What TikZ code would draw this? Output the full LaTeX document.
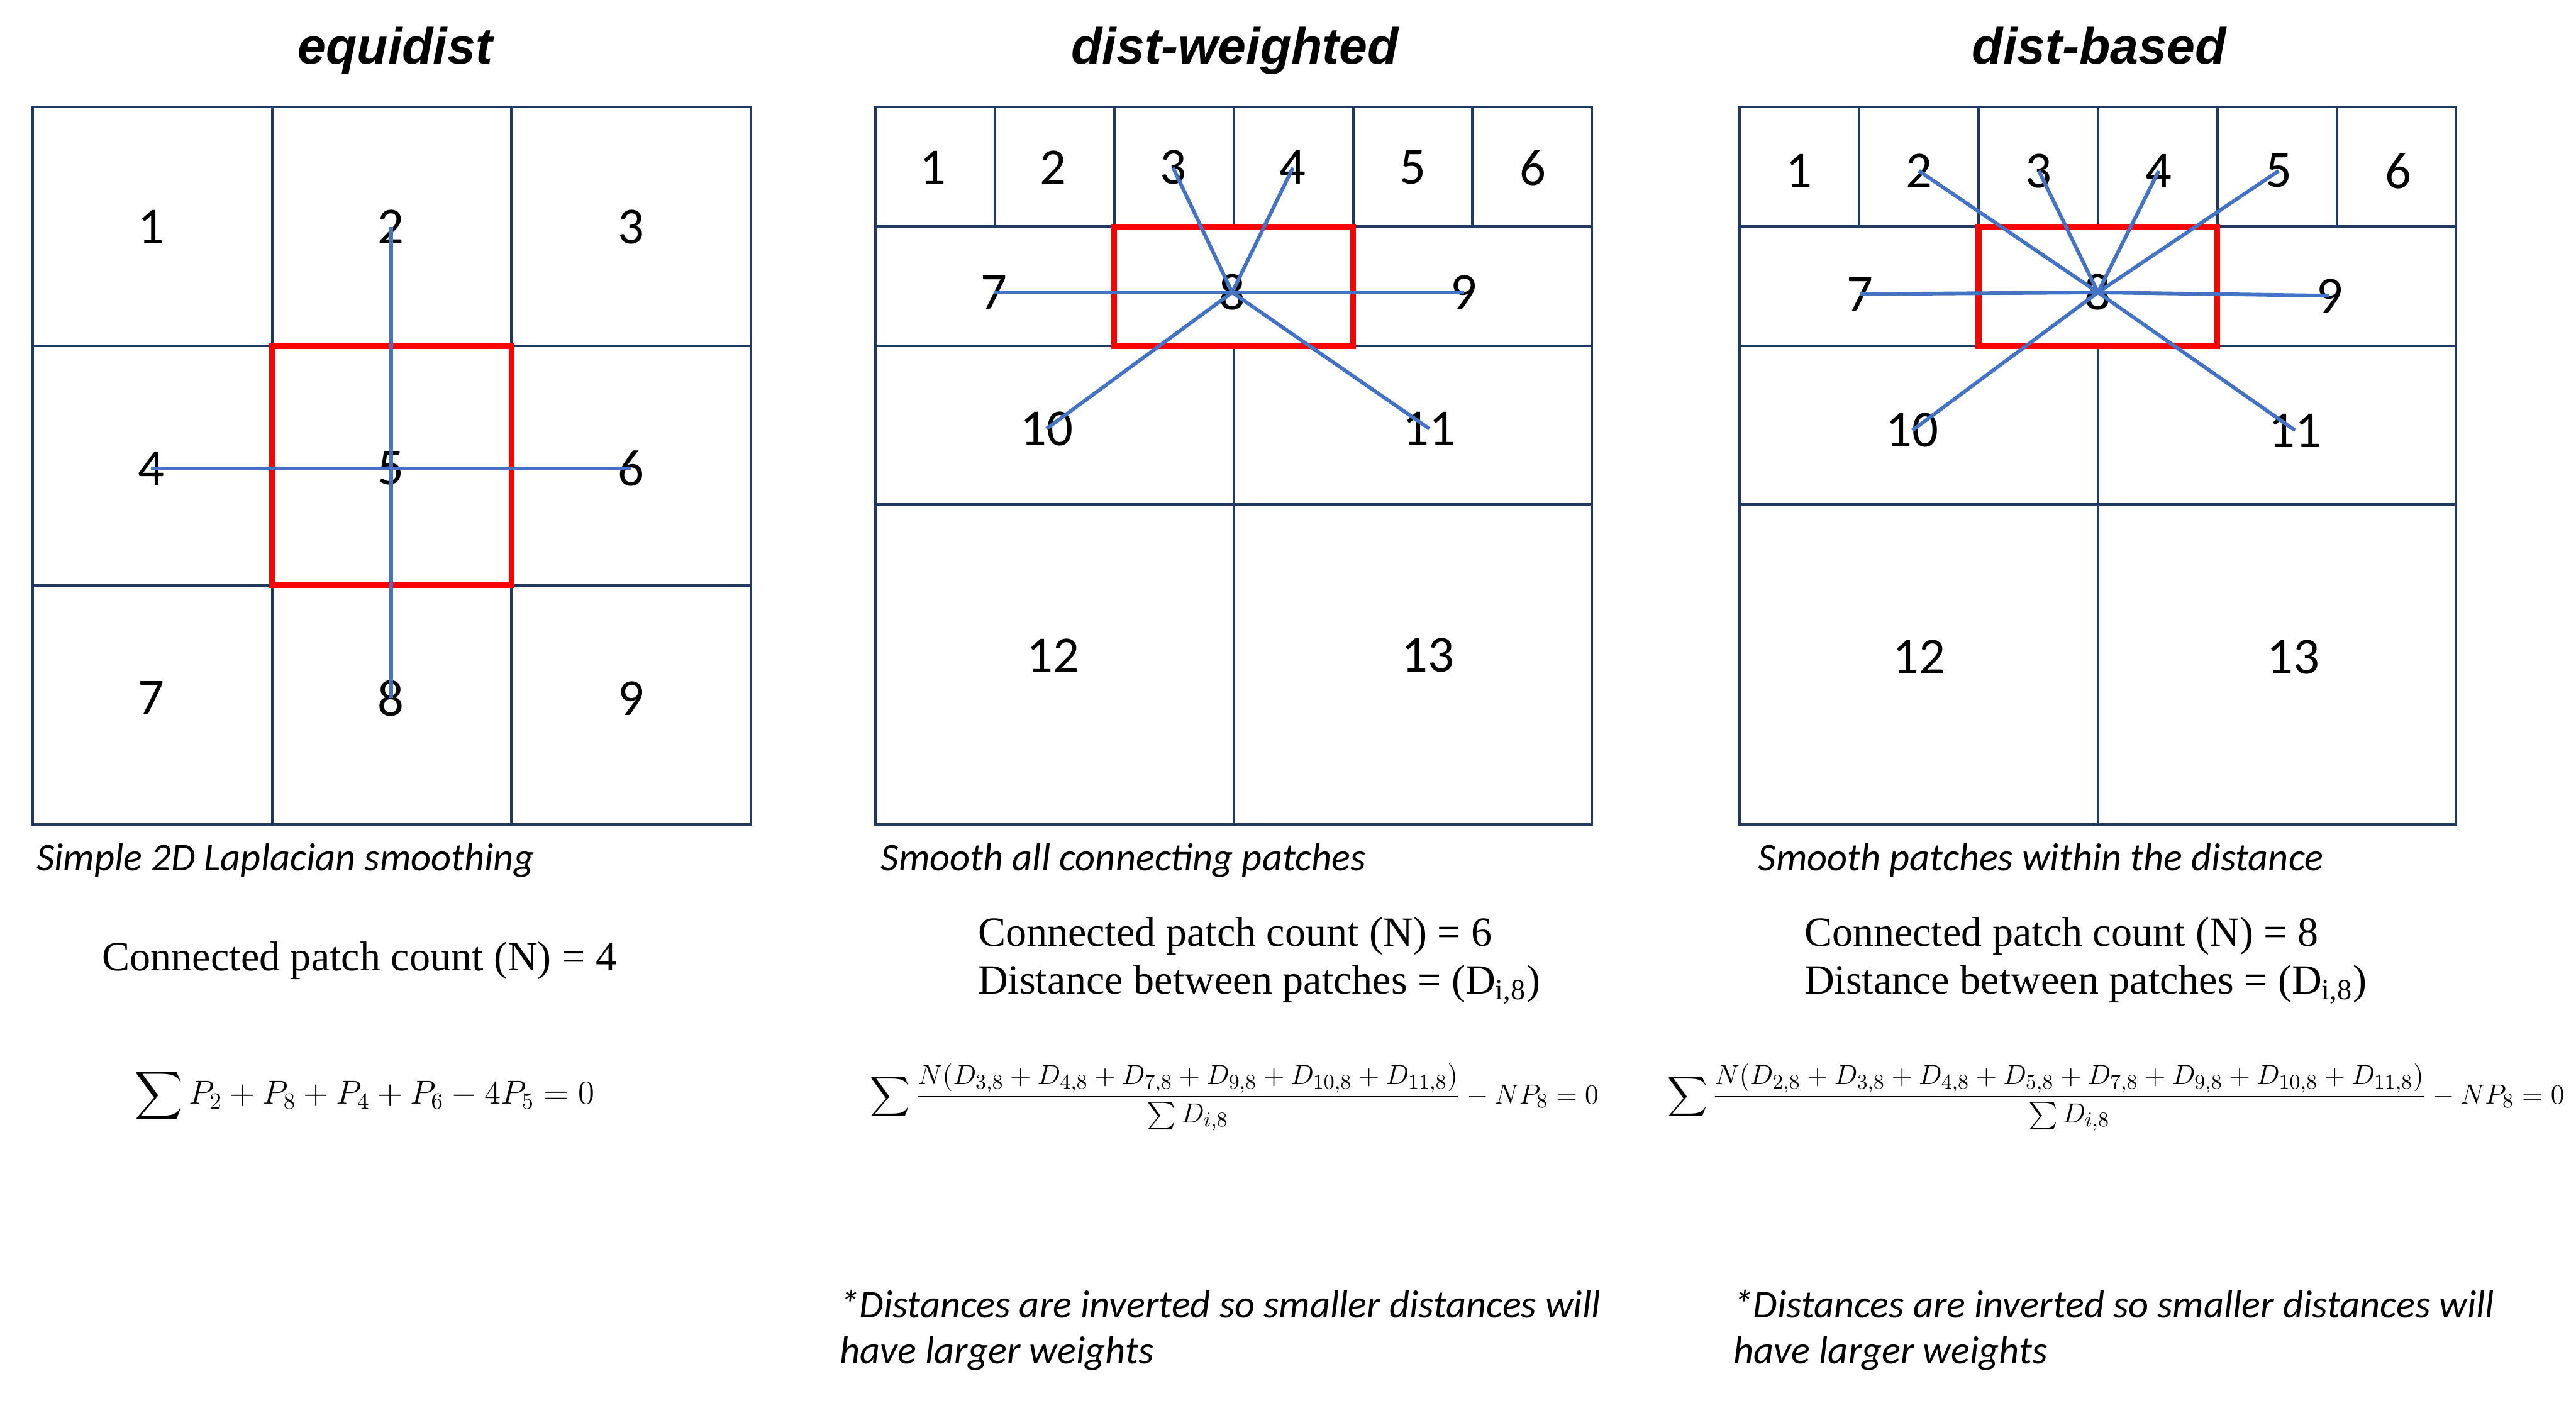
\documentclass[tikz,border=0pt]{standalone}
\usepackage{amsmath}
\usepackage{fontspec}
\usetikzlibrary{positioning}
\newfontfamily\headfont{Liberation Sans}
\newfontfamily\calfont{Carlito}
\newfontfamily\eqfont{Liberation Serif}
\definecolor{gridc}{RGB}{31,56,100}
\definecolor{linkc}{RGB}{68,114,196}
\definecolor{hot}{RGB}{255,0,0}

\begin{document}
\begin{tikzpicture}[x=0.25mm,y=-0.25mm,
    ttl/.style={font=\headfont\fontsize{22}{26}\selectfont\bfseries\itshape,
                anchor=base,inner sep=0pt},
    pnum/.style={font=\calfont\fontsize{22.5}{27}\selectfont,inner sep=0pt},
    capt/.style={font=\calfont\fontsize{17}{20}\selectfont\itshape,
                 anchor=base west,inner sep=0pt},
    txt/.style={font=\eqfont\fontsize{18}{22}\selectfont,anchor=base west,inner sep=0pt},
    eqn/.style={anchor=west,inner sep=0pt},
    cellgrid/.style={draw=gridc,line width=1.1pt},
    hilite/.style={draw=hot,line width=2.5pt},
    conn/.style={linkc,line width=1.6pt}]
    \useasboundingbox (0,0) rectangle (1568,860);
    % equidist
    \node[ttl] (t1) at (240.5,39) {equidist};
    \draw[cellgrid] (20,65) rectangle (457,502);
    \draw[cellgrid] (165.7,65) -- (165.7,502) (311.3,65) -- (311.3,502)
                    (20,210.7) -- (457,210.7) (20,356.3) -- (457,356.3);
    \draw[hilite] (165.7,210.7) rectangle (311.3,356.3);
    \foreach \n/\x/\y in {1/92/138,2/238/138,3/384/138,4/92/285,5/238/285,
                          6/384/285,7/92/425,8/238/425,9/384/425}
      \node[pnum] (a\n) at (\x,\y) {\n};
    \draw[conn] (a2.center) -- (a8.center);
    \draw[conn] (a4.center) -- (a6.center);
    \node[capt] (s1) at (22,530) {Simple 2D Laplacian smoothing};
    \node[txt] (n1) at (62,591) {Connected patch count (N) = 4};
    \node[eqn,font=\fontsize{14}{17}\selectfont] (e1) at (82,667)
      {$\displaystyle\sum P_2+P_8+P_4+P_6-4P_5=0$};
    % dist-weighted
    \node[ttl] (t2) at (751.7,39) {dist-weighted};
    \draw[cellgrid] (533,65) rectangle (969,502);
    \draw[cellgrid] (533,138) -- (969,138) (533,210.7) -- (969,210.7)
                    (533,307) -- (969,307) (751,210.7) -- (751,502);
    \foreach \i in {1,...,5}
      \draw[cellgrid] (533+72.67*\i,65) -- (533+72.67*\i,138);
    \draw[hilite] (678.3,138) rectangle (823.7,210.7);
    \foreach \n/\x/\y in {1/568/102,2/641/102,3/714/102,4/787/102,5/860/102,
                          6/933/102,7/605/178,8/750/178,9/891/178,10/637/261,
                          11/870/261,12/641/399,13/869/399}
      \node[pnum] (b\n) at (\x,\y) {\n};
    \foreach \m in {3,4,7,9,10,11}
      \draw[conn] (b8.center) -- (b\m.center);
    \node[capt] (s2) at (536,530) {Smooth all connecting patches};
    \node[txt] (n2) at (595,576) {Connected patch count (N) = 6};
    \node[txt] (d2) at (595,605) {Distance between patches = (D\textsubscript{i,8})};
    \node[eqn,font=\fontsize{12.3}{15}\selectfont] (e2) at (529.5,668)
      {$\displaystyle\sum\frac{N(D_{3,8}+D_{4,8}+D_{7,8}+D_{9,8}+D_{10,8}+D_{11,8})}{\sum D_{i,8}}-NP_8=0$};
    \node[capt] (f2) at (511,802) {*Distances are inverted so smaller distances will};
    \node[capt] (g2) at (511,830) {have larger weights};
    % dist-based
    \node[ttl] (t3) at (1277.8,39) {dist-based};
    \draw[cellgrid] (1059,65) rectangle (1495,502);
    \draw[cellgrid] (1059,138) -- (1495,138) (1059,210.7) -- (1495,210.7)
                    (1059,307) -- (1495,307) (1277,210.7) -- (1277,502);
    \foreach \i in {1,...,5}
      \draw[cellgrid] (1059+72.67*\i,65) -- (1059+72.67*\i,138);
    \draw[hilite] (1204.3,138) rectangle (1349.7,210.7);
    \foreach \n/\x/\y in {1/1095/104,2/1168/104,3/1241/104,4/1314/104,5/1387/104,
                          6/1460/104,7/1132/179,8/1277/178,9/1418/180,10/1164/262,
                          11/1397/262,12/1168/400,13/1396/400}
      \node[pnum] (c\n) at (\x,\y) {\n};
    \foreach \m in {2,3,4,5,7,9,10,11}
      \draw[conn] (c8.center) -- (c\m.center);
    \node[capt] (s3) at (1070,530) {Smooth patches within the distance};
    \node[txt] (n3) at (1098,576) {Connected patch count (N) = 8};
    \node[txt] (d3) at (1098,605) {Distance between patches = (D\textsubscript{i,8})};
    \node[eqn,font=\fontsize{12.3}{15}\selectfont] (e3) at (1014.6,668)
      {$\displaystyle\sum\frac{N(D_{2,8}+D_{3,8}+D_{4,8}+D_{5,8}+D_{7,8}+D_{9,8}+D_{10,8}+D_{11,8})}{\sum D_{i,8}}-NP_8=0$};
    \node[capt] (f3) at (1055,802) {*Distances are inverted so smaller distances will};
    \node[capt] (g3) at (1055,830) {have larger weights};
\end{tikzpicture}
\end{document}
